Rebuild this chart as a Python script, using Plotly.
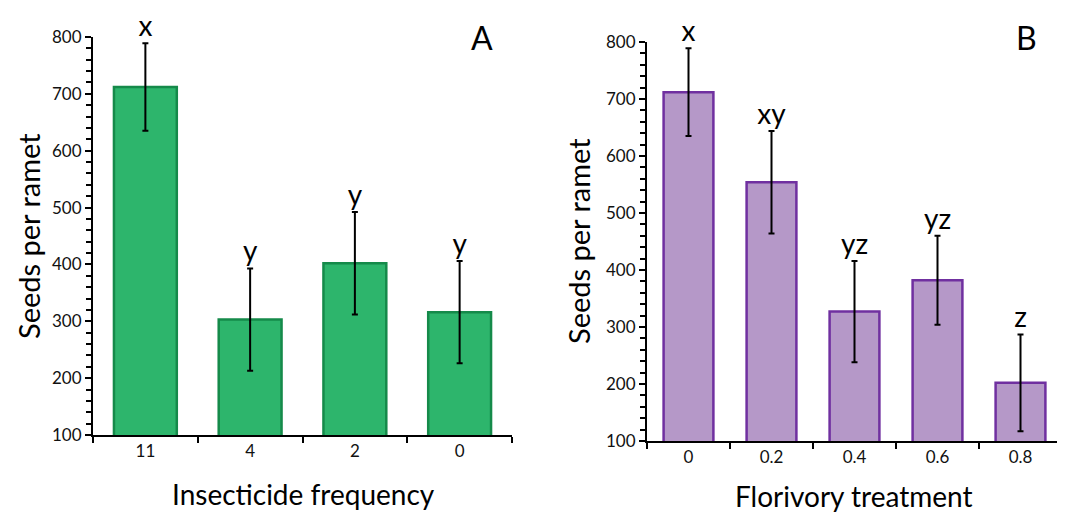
import plotly.graph_objects as go

# Panel A data
cats_a = ["11", "4", "2", "0"]
vals_a = [712, 303, 402, 316]
err_a = [77, 90, 90, 90]
letters_a = ["x", "y", "y", "y"]

# Panel B data
cats_b = ["0", "0.2", "0.4", "0.6", "0.8"]
vals_b = [712, 554, 327, 382, 202]
err_b = [77, 90, 89, 78, 85]
letters_b = ["x", "xy", "yz", "yz", "z"]

FONT = "Lato, Open Sans, sans-serif"
OFF = 8  # page body margin
W, H = 1065 - OFF, 515 - OFF

fig = go.Figure()
fig.add_trace(go.Bar(
    x=cats_a, y=vals_a, width=0.6, xaxis="x", yaxis="y",
    marker=dict(color="#2db56c", line=dict(color="#158a4a", width=2.5)),
    error_y=dict(type="data", array=err_a, visible=True, color="black", thickness=2, width=3),
    showlegend=False, hoverinfo="skip",
))
fig.add_trace(go.Bar(
    x=cats_b, y=vals_b, width=0.6, xaxis="x2", yaxis="y2",
    marker=dict(color="#b598c8", line=dict(color="#7030a0", width=2.5)),
    error_y=dict(type="data", array=err_b, visible=True, color="black", thickness=2, width=3),
    showlegend=False, hoverinfo="skip",
))
# significance letters as text traces (same categorical mapping as bars)
fig.add_trace(go.Scatter(
    x=cats_a, y=[v + e for v, e in zip(vals_a, err_a)], xaxis="x", yaxis="y",
    mode="text", text=letters_a, textposition="top center", cliponaxis=False,
    textfont=dict(family=FONT, size=28, color="black"), showlegend=False, hoverinfo="skip",
))
fig.add_trace(go.Scatter(
    x=cats_b, y=[v + e for v, e in zip(vals_b, err_b)], xaxis="x2", yaxis="y2",
    mode="text", text=letters_b, textposition="top center", cliponaxis=False,
    textfont=dict(family=FONT, size=28, color="black"), showlegend=False, hoverinfo="skip",
))

def px_x(p):
    return (p - OFF) / W

def px_y(p):
    return 1 - (p - OFF) / H

yax_common = dict(
    range=[100, 800], dtick=100, tick0=100, showgrid=False, zeroline=False,
    showline=True, linecolor="black", linewidth=2,
    ticks="outside", ticklen=6, tickwidth=2, tickcolor="black",
    tickfont=dict(family=FONT, size=17, color="#111"),
    minor=dict(dtick=20, ticks="outside", ticklen=5, tickwidth=2, tickcolor="black"),
    automargin=False,
)
xax_common = dict(
    type="category", showgrid=False, zeroline=False,
    showline=True, linecolor="black", linewidth=2,
    ticks="outside", ticklen=6, tickwidth=2, tickcolor="black", tickson="boundaries",
    tickfont=dict(family=FONT, size=17, color="#111"),
    automargin=False,
)

fig.update_layout(
    width=W, height=H,
    margin=dict(l=0, r=0, t=0, b=0, pad=0, autoexpand=False),
    plot_bgcolor="white", paper_bgcolor="white",
    showlegend=False,
    xaxis=dict(xax_common, domain=[px_x(93), px_x(512)], anchor="y", range=[-0.5, 3.5]),
    yaxis=dict(yax_common, domain=[px_y(435), px_y(37)], anchor="x"),
    xaxis2=dict(xax_common, domain=[px_x(647), px_x(1062)], anchor="y2", range=[-0.5, 4.5]),
    yaxis2=dict(yax_common, domain=[px_y(441), px_y(42)], anchor="x2"),
)

def ann(x, y, text, size, angle=0):
    return dict(x=px_x(x), y=px_y(y), xref="paper", yref="paper", text=text, textangle=angle,
                xanchor="center", yanchor="middle", showarrow=False,
                font=dict(family=FONT, size=size, color="black"))

annotations = [
    ann(482, 38, "A", 32),
    ann(1026, 38, "B", 32),
    ann(28, 236, "Seeds per ramet", 29, -90),
    ann(578, 241, "Seeds per ramet", 29, -90),
    ann(303, 494, "Insecticide frequency", 28),
    ann(854, 496, "Florivory treatment", 28),
]
fig.update_layout(annotations=annotations)

fig.write_html("out.html")
